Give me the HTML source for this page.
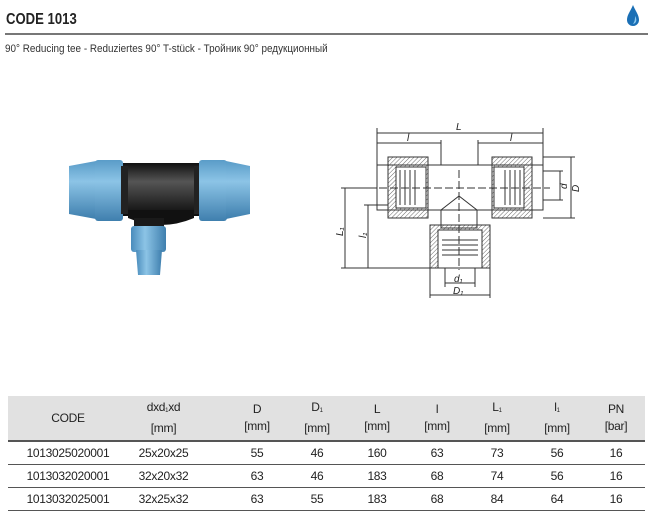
<!DOCTYPE html>
<html><head><meta charset="utf-8"><style>
body{margin:0;width:652px;height:511px;background:#fff;font-family:"Liberation Sans",sans-serif;color:#222;position:relative;overflow:hidden}
.t{position:absolute}
table{position:absolute;left:8px;top:396px;width:637px;border-collapse:collapse;font-size:12px;table-layout:fixed}
td{text-align:center;padding:0;height:22px;border-bottom:1.5px solid #555;letter-spacing:-0.3px}
tr.h td{background:#e1e1e1;height:44px;line-height:17px;border-bottom:2px solid #555}
.s{font-size:6px;vertical-align:-1px}
</style></head><body>
<div class="t" style="left:6px;top:11px;font-size:16px;font-weight:bold;transform:scaleX(0.82);transform-origin:left;color:#222">CODE 1013</div>
<div class="t" style="left:5px;top:33px;width:643px;height:2px;background:#777"></div>
<div class="t" style="left:5px;top:43px;font-size:11px;color:#333;transform:scaleX(0.9);transform-origin:left">90° Reducing tee - Reduziertes 90° T-stück - Тройник 90° редукционный</div>
<svg class="t" style="left:624px;top:4px" width="20" height="24"><path d="M9 1 C12 8 15 11 15 16 A6 6 0 0 1 3 16 C3 11 6 8 9 1Z" fill="#1a6fb5"/><path d="M11 12 C13 15 13 19 9 20 C11 17 11 15 11 12Z" fill="#8cc8ee"/></svg>

<svg class="t" style="left:0;top:100px" width="652" height="200">
<defs>
<linearGradient id="b" x1="0" y1="0" x2="0" y2="1"><stop offset="0" stop-color="#5a9cc8"/><stop offset=".35" stop-color="#8cc4e6"/><stop offset="1" stop-color="#3f7fae"/></linearGradient>
<linearGradient id="k" x1="0" y1="0" x2="0" y2="1"><stop offset="0" stop-color="#111"/><stop offset=".35" stop-color="#555"/><stop offset="1" stop-color="#0c0c0c"/></linearGradient>
<linearGradient id="bv" x1="0" y1="0" x2="1" y2="0"><stop offset="0" stop-color="#4a8cbc"/><stop offset=".4" stop-color="#8cc4e6"/><stop offset="1" stop-color="#3f7fae"/></linearGradient>
<pattern id="hh" width="3" height="3" patternUnits="userSpaceOnUse" patternTransform="rotate(45)"><line x1="0" y1="0" x2="0" y2="3" stroke="#444" stroke-width="0.8"/></pattern>
</defs>
<rect x="122" y="63" width="78" height="53" fill="url(#k)"/>
<path d="M128 110 h66 v8 q-33 14 -66 0z" fill="#111"/>
<rect x="134" y="118" width="30" height="10" fill="#1a1a1a"/>
<rect x="131" y="126" width="35" height="26" rx="3" fill="url(#bv)"/>
<path d="M136 150 h26 l-2 25 h-22z" fill="url(#bv)"/>
<path d="M69 66 L96 61 v58 L69 114z" fill="url(#b)"/>
<rect x="95" y="60" width="28" height="61" rx="3" fill="url(#b)"/>
<rect x="121" y="66" width="7" height="48" fill="#222"/>
<rect x="194" y="66" width="7" height="48" fill="#222"/>
<rect x="199" y="60" width="28" height="61" rx="3" fill="url(#b)"/>
<path d="M226 61 L250 66 v48 L226 119z" fill="url(#b)"/>
<g stroke="#333" stroke-width="1" fill="none">
<line x1="377" y1="33" x2="543" y2="33"/><line x1="377" y1="43" x2="441" y2="43"/><line x1="478" y1="43" x2="543" y2="43"/>
<line x1="377" y1="28" x2="377" y2="65"/><line x1="543" y1="28" x2="543" y2="65"/><line x1="441" y1="40" x2="441" y2="65"/><line x1="478" y1="40" x2="478" y2="65"/>
<rect x="377" y="65" width="166" height="45" fill="#fff"/>
<rect x="441" y="110" width="36" height="18" fill="#fff"/>
<rect x="388" y="57" width="40" height="61" fill="url(#hh)"/>
<rect x="492" y="57" width="40" height="61" fill="url(#hh)"/>
<rect x="430" y="125" width="60" height="43" fill="url(#hh)"/>
<rect x="396" y="67" width="30" height="41" fill="#fff"/>
<rect x="494" y="67" width="30" height="41" fill="#fff"/>
<rect x="438" y="130" width="44" height="38" fill="#fff"/>
<path d="M400 70v35M405 70v35M410 70v35M415 70v35M505 70v35M510 70v35M515 70v35M520 70v35M442 140h36M442 145h36M442 150h36M442 155h36"/>
<path d="M441 110 L459 96 L477 110" />
<line x1="368" y1="88" x2="550" y2="88" stroke-dasharray="8 3"/>
<line x1="459" y1="70" x2="459" y2="170" stroke-dasharray="8 3"/>
<line x1="543" y1="57" x2="575" y2="57"/><line x1="543" y1="118" x2="575" y2="118"/><line x1="571" y1="57" x2="571" y2="118"/>
<line x1="543" y1="71" x2="563" y2="71"/><line x1="543" y1="100" x2="563" y2="100"/><line x1="560" y1="71" x2="560" y2="100"/>
<line x1="341" y1="88" x2="377" y2="88"/><line x1="345" y1="88" x2="345" y2="168"/>
<line x1="364" y1="105" x2="388" y2="105"/><line x1="368" y1="105" x2="368" y2="168"/>
<line x1="341" y1="168" x2="430" y2="168"/>
<line x1="445" y1="168" x2="445" y2="187"/><line x1="475" y1="168" x2="475" y2="187"/><line x1="445" y1="183" x2="475" y2="183"/>
<line x1="430" y1="168" x2="430" y2="198"/><line x1="490" y1="168" x2="490" y2="198"/><line x1="430" y1="195" x2="490" y2="195"/>
</g>
<g font-size="10" font-style="italic" fill="#222" font-family="Liberation Sans">
<text x="456" y="30">L</text><text x="407" y="41">l</text><text x="510" y="41">l</text>
<text x="0" y="0" transform="translate(579,92) rotate(-90)">D</text>
<text x="0" y="0" transform="translate(567,89) rotate(-90)">d</text>
<text x="0" y="0" transform="translate(343,136) rotate(-90)">L₁</text>
<text x="0" y="0" transform="translate(366,138) rotate(-90)">l₁</text>
<text x="454" y="182">d₁</text><text x="453" y="194">D₁</text>
</g>
</svg>

<table>
<colgroup><col style="width:120px"><col style="width:99px"><col style="width:60px"><col style="width:60px"><col style="width:60px"><col style="width:60px"><col style="width:60px"><col style="width:60px"><col style="width:58px"></colgroup>
<tr class="h"><td>CODE</td><td style="padding-right:28px">dxd<span class="s">1</span>xd<br>[mm]</td><td>D<br>[mm]</td><td>D<span class="s">1</span><br>[mm]</td><td>L<br>[mm]</td><td>l<br>[mm]</td><td>L<span class="s">1</span><br>[mm]</td><td>l<span class="s">1</span><br>[mm]</td><td>PN<br>[bar]</td></tr>
<tr><td>1013025020001</td><td style="padding-right:28px">25x20x25</td><td>55</td><td>46</td><td>160</td><td>63</td><td>73</td><td>56</td><td>16</td></tr>
<tr><td>1013032020001</td><td style="padding-right:28px">32x20x32</td><td>63</td><td>46</td><td>183</td><td>68</td><td>74</td><td>56</td><td>16</td></tr>
<tr><td>1013032025001</td><td style="padding-right:28px">32x25x32</td><td>63</td><td>55</td><td>183</td><td>68</td><td>84</td><td>64</td><td>16</td></tr>
</table>
</body></html>
